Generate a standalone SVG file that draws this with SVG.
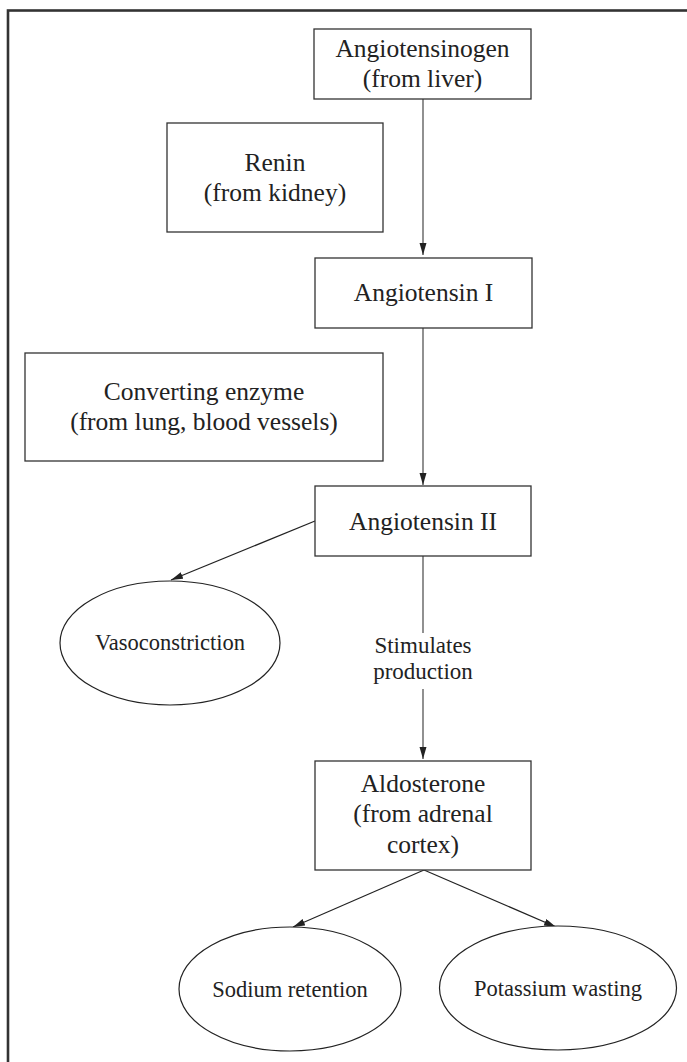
<svg xmlns="http://www.w3.org/2000/svg" width="687" height="1062" viewBox="0 0 687 1062">
<defs>
<style>
.box{fill:#fff;stroke:#333;stroke-width:1.3}
.ell{fill:#fff;stroke:#222;stroke-width:1.2}
.t{font-family:"Liberation Serif","Times New Roman",serif;font-size:25.5px;fill:#222;text-anchor:middle}
.te{font-family:"Liberation Serif","Times New Roman",serif;font-size:22.5px;fill:#222;text-anchor:middle}
.c{stroke:#555;stroke-width:1.3;fill:none}
.cd{stroke:#222;stroke-width:1.2;fill:none}
</style>
<marker id="ah" markerUnits="userSpaceOnUse" markerWidth="13" markerHeight="8" refX="12" refY="3.5" orient="auto">
<path d="M0,0 L12,3.5 L0,7 z" fill="#222"/>
</marker>
</defs>
<rect width="687" height="1062" fill="#fff"/>
<rect x="8" y="10.5" width="720" height="1100" fill="none" stroke="#333" stroke-width="2.6"/>
<g id="connectors">
<line class="c" x1="423" y1="99" x2="423" y2="255" marker-end="url(#ah)"/>
<line class="c" x1="423" y1="328" x2="423" y2="485" marker-end="url(#ah)"/>
<line class="cd" x1="315" y1="521" x2="171" y2="580" marker-end="url(#ah)"/>
<line class="c" x1="423" y1="556" x2="423" y2="633"/>
<line class="c" x1="423" y1="689" x2="423" y2="759" marker-end="url(#ah)"/>
<text class="te" x="423" y="653" style="font-size:23px">Stimulates</text>
<text class="te" x="423" y="679" style="font-size:23px">production</text>
<line class="cd" x1="424" y1="870" x2="293" y2="927" marker-end="url(#ah)"/>
<line class="cd" x1="424" y1="870" x2="556" y2="927" marker-end="url(#ah)"/>
</g>
<g id="angiotensinogen">
<rect class="box" x="314" y="29" width="217" height="70"/>
<text class="t" x="422.5" y="57">Angiotensinogen</text>
<text class="t" x="422.5" y="87">(from liver)</text>
</g>
<g id="renin">
<rect class="box" x="167" y="123" width="216" height="109"/>
<text class="t" x="275" y="171">Renin</text>
<text class="t" x="275" y="201">(from kidney)</text>
</g>
<g id="angiotensin1">
<rect class="box" x="315" y="258" width="217" height="70"/>
<text class="t" x="423.5" y="301">Angiotensin I</text>
</g>
<g id="converting">
<rect class="box" x="25" y="353" width="358" height="108"/>
<text class="t" x="204" y="400">Converting enzyme</text>
<text class="t" x="204" y="430">(from lung, blood vessels)</text>
</g>
<g id="angiotensin2">
<rect class="box" x="315" y="486" width="216" height="70"/>
<text class="t" x="423" y="530">Angiotensin II</text>
</g>
<g id="vasoconstriction">
<ellipse class="ell" cx="170" cy="643" rx="110" ry="62"/>
<text class="te" x="170" y="650">Vasoconstriction</text>
</g>
<g id="aldosterone">
<rect class="box" x="315" y="761" width="216" height="109"/>
<text class="t" x="423" y="792">Aldosterone</text>
<text class="t" x="423" y="822">(from adrenal</text>
<text class="t" x="423" y="853">cortex)</text>
</g>
<g id="sodium">
<ellipse class="ell" cx="290" cy="989" rx="111" ry="62"/>
<text class="te" x="290" y="997">Sodium retention</text>
</g>
<g id="potassium">
<ellipse class="ell" cx="558" cy="988" rx="118.5" ry="62"/>
<text class="te" x="558" y="996">Potassium wasting</text>
</g>
</svg>
